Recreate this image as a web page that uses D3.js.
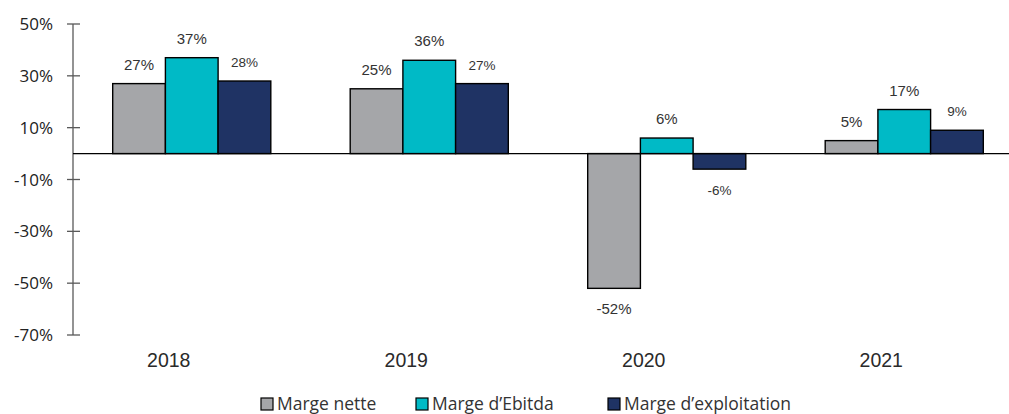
<!DOCTYPE html>
<html>
<head>
<meta charset="utf-8">
<script src="https://cdn.jsdelivr.net/npm/d3@7"></script>
<style>
  html, body { margin: 0; padding: 0; background: #fff; }
  svg { display: block; }
</style>
</head>
<body>
<svg id="chart" width="1009" height="414"></svg>
<script>
// Years on the x axis
const years = ["2018", "2019", "2020", "2021"];
// Margins per year, in percent
const margeNette = [27, 25, -52, 5];
const margeEbitda = [37, 36, 6, 17];
const margeExploitation = [28, 27, -6, 9];
// Y axis tick values
const yTicks = [50, 30, 10, -10, -30, -50, -70];
const seriesNames = ["Marge nette", "Marge d\u2019Ebitda", "Marge d\u2019exploitation"];

const series = [
  { name: seriesNames[0], values: margeNette, color: "#A5A6A9", labelSize: 15 },
  { name: seriesNames[1], values: margeEbitda, color: "#00BAC6", labelSize: 15 },
  { name: seriesNames[2], values: margeExploitation, color: "#1F3364", labelSize: 13.5 }
];

const svg = d3.select("#chart");
const axisX = 73;
const sideFont = "'Open Sans', 'Noto Sans', sans-serif";
const arialFont = "'Liberation Sans', Arial, sans-serif";

const y = d3.scaleLinear().domain([-70, 50]).range([335, 24]);
const x0 = d3.scaleBand().domain(years).range([axisX, axisX + 4 * 237.5]).paddingInner(0).paddingOuter(0);
const barW = 52.7;

// Y axis line with ticks crossing it
svg.append("line")
  .attr("x1", axisX).attr("x2", axisX)
  .attr("y1", y(50)).attr("y2", y(-70))
  .attr("stroke", "#595959").attr("stroke-width", 1.3);

const tickG = svg.append("g");
yTicks.forEach(t => {
  tickG.append("line")
    .attr("x1", axisX - 6).attr("x2", axisX + 7)
    .attr("y1", y(t)).attr("y2", y(t))
    .attr("stroke", "#595959").attr("stroke-width", 1.3);
  tickG.append("text")
    .attr("x", 53).attr("y", y(t))
    .attr("dy", "0.36em")
    .attr("text-anchor", "end")
    .attr("font-family", sideFont)
    .attr("font-size", 17)
    .attr("fill", "#222")
    .text(t + "%");
});

// Bars
years.forEach((yr, i) => {
  const gx = x0(yr) + x0.bandwidth() / 2 - 1.5 * barW;
  series.forEach((s, j) => {
    const v = s.values[i];
    const bx = gx + j * barW;
    svg.append("rect")
      .attr("x", bx)
      .attr("y", y(Math.max(0, v)))
      .attr("width", barW)
      .attr("height", Math.abs(y(v) - y(0)))
      .attr("fill", s.color)
      .attr("stroke", "#000")
      .attr("stroke-width", 1.4);
    svg.append("text")
      .attr("x", bx + barW / 2)
      .attr("y", v >= 0 ? y(v) - 14 : y(v) + 26)
      .attr("text-anchor", "middle")
      .attr("font-family", arialFont)
      .attr("font-weight", 400)
      .attr("font-size", s.labelSize)
      .attr("fill", "#333")
      .text(v + "%");
  });
});

// Zero line
svg.append("line")
  .attr("x1", axisX).attr("x2", 1009)
  .attr("y1", y(0)).attr("y2", y(0))
  .attr("stroke", "#000").attr("stroke-width", 1.4);

// Category labels
years.forEach(yr => {
  svg.append("text")
    .attr("x", x0(yr) + x0.bandwidth() / 2 - 23)
    .attr("y", 367)
    .attr("text-anchor", "middle")
    .attr("font-family", arialFont)
    .attr("font-weight", 400)
    .attr("font-size", 19.5)
    .attr("fill", "#2a2a2a")
    .text(yr);
});

// Legend
const legendX = [261, 416, 608];
series.forEach((s, j) => {
  svg.append("rect")
    .attr("x", legendX[j]).attr("y", 398)
    .attr("width", 12).attr("height", 12)
    .attr("fill", s.color)
    .attr("stroke", "#000").attr("stroke-width", 1.2);
  svg.append("text")
    .attr("x", legendX[j] + 16).attr("y", 409.5)
    .attr("font-family", sideFont)
    .attr("font-size", 17.5)
    .attr("fill", "#333")
    .text(s.name);
});
</script>
</body>
</html>
